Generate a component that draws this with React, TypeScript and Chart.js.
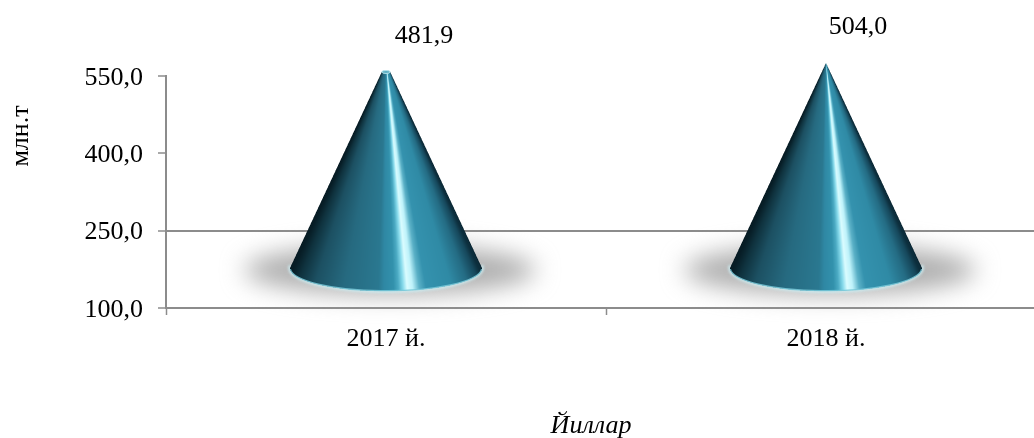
import React, { useEffect, useRef } from "react";
import { Chart, registerables } from "chart.js";

Chart.register(...registerables);

const categories = ["2017 й.", "2018 й."];
const production = [481.9, 504.0];
const valueLabels = ["481,9", "504,0"];
const yTickLabels: Record<number, string> = { 100: "100,0", 250: "250,0", 400: "400,0", 550: "550,0" };
const yAxisTitle = "млн.т";
const xAxisTitle = "Йиллар";

const FONT = "'Liberation Serif', 'Times New Roman', serif";
const AXIS = "#8c8c8c";
const LABEL_DX = [38, 32];

const STOPS: [number, number[]][] = [
  [0, [5, 24, 32]],
  [0.05, [15, 50, 62]],
  [0.13, [28, 80, 98]],
  [0.28, [38, 106, 128]],
  [0.46, [42, 120, 144]],
  [0.49, [47, 136, 164]],
  [0.54, [50, 145, 172]],
  [0.565, [75, 170, 195]],
  [0.59, [135, 218, 235]],
  [0.612, [218, 252, 255]],
  [0.64, [190, 242, 250]],
  [0.675, [90, 176, 198]],
  [0.71, [52, 146, 174]],
  [0.84, [47, 138, 165]],
  [0.92, [36, 108, 132]],
  [0.97, [22, 72, 92]],
  [1, [8, 34, 46]],
];

function shadeRgb(t: number): number[] {
  for (let i = 1; i < STOPS.length; i++) {
    if (t <= STOPS[i][0]) {
      const [t0, c0] = STOPS[i - 1];
      const [t1, c1] = STOPS[i];
      const k = (t - t0) / (t1 - t0);
      return c0.map((v, j) => v + (c1[j] - v) * k);
    }
  }
  return STOPS[STOPS.length - 1][1];
}

// Renders the shaded cone surface for one bar element, with supersampled edges.
function coneImage(x: number, y: number, base: number, rx: number, ry: number, rTop: number) {
  const left = Math.floor(x - rx - 2);
  const top = Math.floor(y - 2);
  const w = Math.ceil(2 * rx + 4);
  const h = Math.ceil(base + ry - y + 4);
  const off = document.createElement("canvas");
  off.width = w;
  off.height = h;
  const octx = off.getContext("2d") as CanvasRenderingContext2D;
  const img = octx.createImageData(w, h);
  const SS = 3;
  for (let j = 0; j < h; j++) {
    for (let i = 0; i < w; i++) {
      let r = 0, g = 0, b = 0, n = 0;
      for (let a = 0; a < SS; a++) {
        for (let c = 0; c < SS; c++) {
          const px = left + i + (a + 0.5) / SS - x;
          const py = top + j + (c + 0.5) / SS - y;
          if (py < 0) continue;
          let s = py / (base - y);
          let u = 0;
          for (let it = 0; it < 5; it++) {
            u = px / (rTop + (rx - rTop) * Math.min(s, 1));
            const uc = Math.max(-1, Math.min(1, u));
            s = py / (base - y + ry * Math.sqrt(1 - uc * uc));
          }
          if (Math.abs(u) > 1 || s > 1) continue;
          const col = shadeRgb((u + 1) / 2);
          r += col[0];
          g += col[1];
          b += col[2];
          n++;
        }
      }
      if (n) {
        const p = (j * w + i) * 4;
        img.data[p] = r / n;
        img.data[p + 1] = g / n;
        img.data[p + 2] = b / n;
        img.data[p + 3] = (255 * n) / (SS * SS);
      }
    }
  }
  octx.putImageData(img, 0, 0);
  return { off, left, top };
}

const conePlugin = {
  id: "cones",
  afterDatasetsDraw(chart: any) {
    const ctx: CanvasRenderingContext2D = chart.ctx;
    const meta = chart.getDatasetMeta(0);
    const yScale = chart.scales.y1;
    const apexY = yScale.getPixelForValue(Math.max(...production));
    meta.data.forEach((bar: any, i: number) => {
      const { x, y, base, width } = bar.getProps(["x", "y", "base", "width"], true);
      const rx = width / 2;
      const ry = rx * 0.24;
      const rTop = rx * (1 - (base - y) / (base - apexY));

      // floor shadow: a soft blurred ellipse
      ctx.save();
      ctx.filter = "blur(12px)";
      ctx.fillStyle = "rgba(165,165,165,0.9)";
      ctx.beginPath();
      ctx.ellipse(x + 4, base + 2, rx * 1.52, ry * 1.08, 0, 0, Math.PI * 2);
      ctx.fill();
      ctx.restore();

      // pale halo round the base
      ctx.save();
      ctx.filter = "blur(1px)";
      ctx.strokeStyle = "rgba(205,238,243,0.8)";
      ctx.lineWidth = 3;
      ctx.beginPath();
      ctx.ellipse(x, base, rx + 0.5, ry + 0.5, 0, -0.12, Math.PI + 0.12);
      ctx.stroke();
      ctx.restore();

      const { off, left, top } = coneImage(x, y, base, rx, ry, rTop);
      ctx.drawImage(off, left, top);

      // bottom rim
      ctx.save();
      ctx.strokeStyle = "rgba(120,200,216,0.85)";
      ctx.lineWidth = 1.2;
      ctx.beginPath();
      ctx.ellipse(x, base, rx - 0.3, ry - 0.3, 0, 0.05, Math.PI - 0.05);
      ctx.stroke();
      ctx.restore();

      // truncated top
      if (rTop > 1.5) {
        ctx.save();
        ctx.fillStyle = "#5aaec2";
        ctx.strokeStyle = "#b4e2ea";
        ctx.lineWidth = 1;
        ctx.beginPath();
        ctx.ellipse(x, y, rTop, rTop * 0.35, 0, 0, Math.PI * 2);
        ctx.fill();
        ctx.stroke();
        ctx.restore();
      }

      // value label
      ctx.save();
      ctx.fillStyle = "#000";
      ctx.font = `26px ${FONT}`;
      ctx.textAlign = "center";
      ctx.textBaseline = "middle";
      ctx.fillText(valueLabels[i], x + LABEL_DX[i], y - 36);
      ctx.restore();
    });

    const area = chart.chartArea;
    // rotated value-axis title
    ctx.save();
    ctx.translate(21, area.top + 60);
    ctx.rotate(-Math.PI / 2);
    ctx.fillStyle = "#000";
    ctx.font = `26px ${FONT}`;
    ctx.textAlign = "center";
    ctx.textBaseline = "middle";
    ctx.fillText(yAxisTitle, 0, 0);
    ctx.restore();

    // category-axis title
    ctx.save();
    ctx.fillStyle = "#000";
    ctx.font = `italic 26px ${FONT}`;
    ctx.textAlign = "center";
    ctx.textBaseline = "middle";
    ctx.fillText(xAxisTitle, (area.left + area.right) / 2 - 15, area.bottom + 118);
    ctx.restore();
  },
};

export default function App() {
  const ref = useRef<HTMLCanvasElement>(null);
  useEffect(() => {
    if (!ref.current) return;
    const chart = new Chart(ref.current, {
      type: "bar",
      data: {
        labels: categories,
        datasets: [
          {
            data: production,
            yAxisID: "y1",
            backgroundColor: "rgba(0,0,0,0)",
            borderWidth: 0,
            categoryPercentage: 1,
            barPercentage: 192 / 440,
          },
        ],
      },
      options: {
        responsive: false,
        animation: false,
        devicePixelRatio: 1,
        layout: { padding: { top: 76, right: 14, left: 0, bottom: 0 } },
        plugins: { legend: { display: false }, tooltip: { enabled: false } },
        scales: {
          x: {
            offset: true,
            grid: { offset: true, drawOnChartArea: false, drawTicks: true, tickLength: 7, tickColor: AXIS, tickWidth: 1.5 },
            border: { color: AXIS, width: 2 },
            ticks: { color: "#000", font: { family: FONT, size: 26 }, padding: 9, maxRotation: 0 },
            afterFit: (s: any) => {
              s.height = 130;
            },
          },
          y: {
            min: 100,
            max: 550,
            afterBuildTicks: (s: any) => {
              s.ticks = [100, 250, 400, 550].map((value) => ({ value }));
            },
            grid: {
              color: (c: any) => (c.tick && c.tick.value === 250 ? AXIS : "rgba(0,0,0,0)"),
              lineWidth: 2,
              tickColor: AXIS,
              tickLength: 8,
              tickWidth: 1.5,
            },
            border: { color: AXIS, width: 2 },
            ticks: {
              color: "#000",
              font: { family: FONT, size: 26 },
              padding: 15,
              labelOffset: 2,
              callback: (v: any) => yTickLabels[v as number] ?? "",
            },
            afterFit: (s: any) => {
              s.width = 166;
            },
          },
          y1: { display: false, position: "right", min: -98.4, max: 472, grid: { display: false } },
        },
      },
      plugins: [conePlugin],
    } as any);
    return () => chart.destroy();
  }, []);
  return (
    <div style={{ position: "absolute", left: 0, top: 0, width: 1034, height: 438, overflow: "hidden", background: "#fff" }}>
      <canvas ref={ref} width={1060} height={438} style={{ display: "block" }} />
    </div>
  );
}
